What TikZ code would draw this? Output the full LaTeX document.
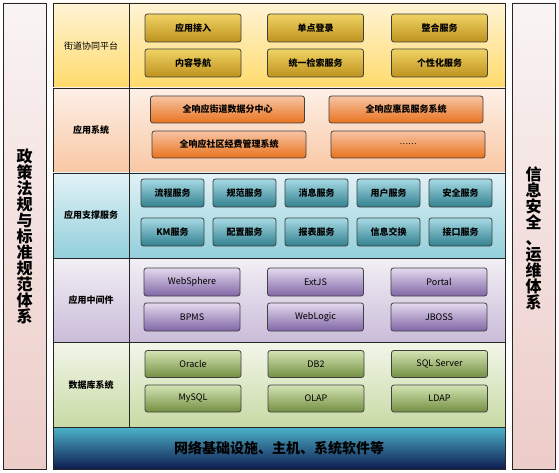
\documentclass[tikz,border=0pt]{standalone}
\usepackage{fontspec}
\setmainfont{Noto Sans CJK SC}
\usepackage{tikz}
\usetikzlibrary{positioning}

\definecolor{sideTop}{RGB}{249,244,244}
\definecolor{sideMid}{RGB}{227,176,170}
\definecolor{sideBot}{RGB}{236,204,200}
\definecolor{goldBgT}{RGB}{255,244,214}
\definecolor{goldBgB}{RGB}{255,218,106}
\definecolor{goldT}{RGB}{240,212,100}
\definecolor{goldB}{RGB}{190,145,30}
\definecolor{orgBgT}{RGB}{253,240,232}
\definecolor{orgBgB}{RGB}{249,199,162}
\definecolor{orgT}{RGB}{248,196,164}
\definecolor{orgB}{RGB}{232,115,30}
\definecolor{tealBgT}{RGB}{226,242,246}
\definecolor{tealBgB}{RGB}{146,207,219}
\definecolor{tealT}{RGB}{167,219,229}
\definecolor{tealB}{RGB}{49,128,143}
\definecolor{purBgT}{RGB}{242,239,245}
\definecolor{purBgB}{RGB}{202,188,217}
\definecolor{purT}{RGB}{228,218,238}
\definecolor{purB}{RGB}{128,102,166}
\definecolor{grnBgT}{RGB}{242,246,234}
\definecolor{grnBgB}{RGB}{200,218,164}
\definecolor{grnT}{RGB}{212,228,180}
\definecolor{grnB}{RGB}{115,143,66}
\definecolor{netT}{RGB}{77,179,203}
\definecolor{netM}{RGB}{52,130,168}
\definecolor{netB}{RGB}{14,28,80}

\tikzset{
  frame/.style={draw=black!85,line width=0.7pt},
  layertitle/.style={font=\bfseries\fontsize{9}{9}\selectfont},
  cell/.style={draw=black!75,line width=0.8pt,rounded corners=2.5pt,inner sep=0pt,
    minimum height=28pt,font=\bfseries\fontsize{9}{9}\selectfont},
  latin/.style={font=\fontsize{9}{9}\selectfont},
  goldcell/.style={cell,minimum width=96pt,top color=goldT,bottom color=goldB},
  orgcell/.style={cell,minimum width=154pt,minimum height=27pt,top color=orgT,bottom color=orgB},
  tealcell/.style={cell,minimum width=63pt,top color=tealT,bottom color=tealB},
  purcell/.style={cell,latin,minimum width=96pt,top color=purT,bottom color=purB},
  grncell/.style={cell,latin,minimum width=96pt,minimum height=27pt,top color=grnT,bottom color=grnB},
  sidetext/.style={align=center,font=\bfseries\fontsize{16}{16}\selectfont}
}

\begin{document}
\begin{tikzpicture}[x=1pt,y=-1pt]
  \useasboundingbox (0,0) rectangle (559,473);
  % 左右两侧的竖条
  \shade[top color=sideTop,middle color=sideMid,bottom color=sideBot,frame] (3,3) rectangle (46,469);
  \shade[top color=sideTop,middle color=sideMid,bottom color=sideBot,frame] (512,3) rectangle (555,469);
  \node[sidetext] (policy) at (24.5,236.5) {政\\策\\法\\规\\与\\标\\准\\规\\范\\体\\系};
  \node[sidetext] (secops) at (533.5,238) {信\\息\\安\\全\\、\\运\\维\\体\\系};

  % 各层背景
  \shade[top color=goldBgT,bottom color=goldBgB,frame] (53,3) rectangle (505,88);
  \shade[top color=orgBgT,bottom color=orgBgB,frame] (53,88) rectangle (505,173);
  \shade[top color=tealBgT,bottom color=tealBgB,frame] (53,173) rectangle (505,258);
  \shade[top color=purBgT,bottom color=purBgB,frame] (53,258) rectangle (505,342);
  \shade[top color=grnBgT,bottom color=grnBgB,frame] (53,342) rectangle (505,427);
  \shade[top color=netT,middle color=netM,bottom color=netB,frame] (53,427) rectangle (505,469);
  \draw[frame] (129,3) -- (129,427); % 层名一栏的分隔线

  % 层名
  \node[font=\fontsize{9}{9}\selectfont] (platform) at (91,46) {街道协同平台};
  \node[layertitle] (appsys) at (91,130.5) {应用系统};
  \node[layertitle] (support) at (91,215.5) {应用支撑服务};
  \node[layertitle] (middleware) at (91,300) {应用中间件};
  \node[layertitle] (database) at (91,385) {数据库系统};
  \node[font=\bfseries\fontsize{14}{14}\selectfont] (network) at (279,448) {网络基础设施、主机、系统软件等};

  % 街道协同平台
  \node[goldcell] (access) at (193,28) {应用接入};
  \node[goldcell] (sso) at (315.5,28) {单点登录};
  \node[goldcell] (integr) at (439.5,28) {整合服务};
  \node[goldcell] (navi) at (193,63) {内容导航};
  \node[goldcell] (search) at (315.5,63) {统一检索服务};
  \node[goldcell] (persona) at (439.5,63) {个性化服务};

  % 应用系统
  \node[orgcell] (datactr) at (227.5,109.5) {全响应街道数据分中心};
  \node[orgcell] (huimin) at (406,109.5) {全响应惠民服务系统};
  \node[orgcell] (funds) at (229,144.5) {全响应社区经费管理系统};
  \node[orgcell,font=\fontsize{8}{8}\selectfont] (more) at (408,144.5) {……};

  % 应用支撑服务
  \node[tealcell] (flow) at (172.5,193) {流程服务};
  \node[tealcell] (norm) at (244.5,193) {规范服务};
  \node[tealcell] (msg) at (316.5,193) {消息服务};
  \node[tealcell] (user) at (388.5,193) {用户服务};
  \node[tealcell] (secure) at (460.5,193) {安全服务};
  \node[tealcell] (km) at (172.5,232) {KM服务};
  \node[tealcell] (config) at (244.5,232) {配置服务};
  \node[tealcell] (report) at (316.5,232) {报表服务};
  \node[tealcell] (xchg) at (388.5,232) {信息交换};
  \node[tealcell] (iface) at (460.5,232) {接口服务};

  % 应用中间件
  \node[purcell] (websphere) at (192,282) {WebSphere};
  \node[purcell] (extjs) at (315.5,282) {ExtJS};
  \node[purcell] (portal) at (439,282) {Portal};
  \node[purcell] (bpms) at (192,317) {BPMS};
  \node[purcell] (weblogic) at (315.5,317) {WebLogic};
  \node[purcell] (jboss) at (439,317) {JBOSS};

  % 数据库系统
  \node[grncell] (oracle) at (193,364) {Oracle};
  \node[grncell] (db2) at (316,364) {DB2};
  \node[grncell] (sqlsrv) at (439.5,364) {SQL Server};
  \node[grncell] (mysql) at (193,398.5) {MySQL};
  \node[grncell] (olap) at (316,398.5) {OLAP};
  \node[grncell] (ldap) at (439.5,398.5) {LDAP};
\end{tikzpicture}
\end{document}
